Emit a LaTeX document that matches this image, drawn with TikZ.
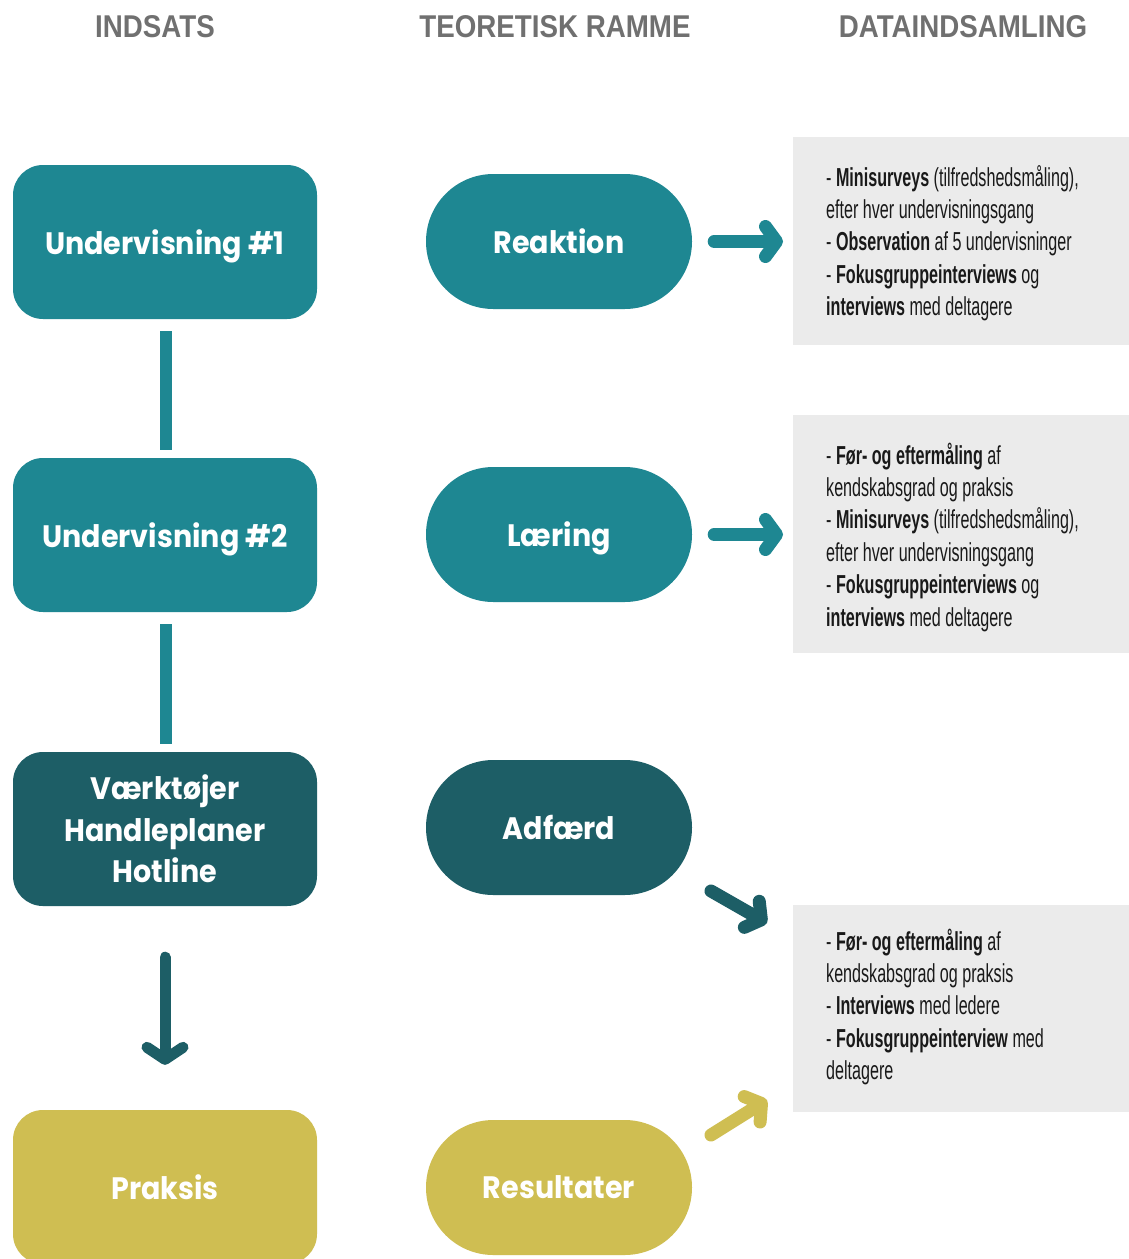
\documentclass[tikz,border=0pt]{standalone}
\usepackage{fontspec}
\usetikzlibrary{arrows.meta}
\newfontfamily\headfont{Liberation Sans}[FakeStretch=0.88]
\newfontfamily\boxfont{Poppins}[FakeStretch=0.92]
\newfontfamily\listfont{Liberation Sans}[FakeStretch=0.62]
\definecolor{teal1}{RGB}{30,135,146}
\definecolor{teal2}{RGB}{29,94,102}
\definecolor{yell}{RGB}{207,190,82}
\definecolor{grayb}{RGB}{235,235,235}
\definecolor{headg}{RGB}{112,112,112}
\definecolor{txt}{RGB}{25,25,25}
\tikzset{
  head/.style={font=\headfont\bfseries\fontsize{31.5}{34}\selectfont, text=headg, anchor=base},
  lbox/.style={minimum width=304pt, minimum height=154pt, rounded corners=30pt, inner sep=0pt, text=white, align=center, font=\boxfont\bfseries\fontsize{31}{41.5}\selectfont},
  pill/.style={minimum width=266pt, minimum height=135pt, rounded corners=67.4pt, inner sep=0pt, text=white, align=center, font=\boxfont\bfseries\fontsize{31}{40}\selectfont},
  oneline/.style={text depth=0pt},
  gbox/.style={fill=grayb, inner sep=0pt, minimum width=347pt, anchor=north west},
  listtxt/.style={anchor=base west, inner sep=0pt, text=txt, font=\listfont\fontsize{26}{32.4}\selectfont},
  conn/.style={draw=teal1, line width=12pt},
  arr/.style={line width=13pt, line cap=round, -{Straight Barb[round, length=11pt, width=30pt]}},
}
\begin{document}
\begin{tikzpicture}[x=1pt,y=-1pt]
\useasboundingbox[fill=white] (0,0) rectangle (1128,1259);
% headers
\node[head] (h1) at (155,37) {INDSATS};
\node[head] (h2) at (555,37) {TEORETISK RAMME};
\node[head] (h3) at (963,37) {DATAINDSAMLING};
% left column
\node[lbox, oneline, fill=teal1] (u1) at (165,242) {Undervisning \#1};
\node[lbox, oneline, fill=teal1] (u2) at (165,535) {Undervisning \#2};
\node[lbox, fill=teal2] (vt) at (165,829) {Værktøjer\\Handleplaner\\Hotline};
\node[lbox, oneline, fill=yell] (pr) at (165,1187) {Praksis};
\draw[conn, shorten <=12pt, shorten >=8pt] ([xshift=1pt]u1.south) -- ([xshift=1pt]u2.north);
\draw[conn, shorten <=12pt, shorten >=8pt] ([xshift=1pt]u2.south) -- ([xshift=1pt]vt.north);
\draw[line width=11pt, line cap=round, draw=teal2, -{Straight Barb[round, length=12pt, width=36pt]}, shorten <=51pt, shorten >=45pt] (vt.south) -- (pr.north);
% middle column
\node[pill, oneline, fill=teal1] (re) at (559,241.5) {Reaktion};
\node[pill, oneline, fill=teal1] (la) at (559,534.5) {Læring};
\node[pill, oneline, fill=teal2] (ad) at (559,827.5) {Adfærd};
\node[pill, oneline, fill=yell] (rs) at (559,1187.5) {Resultater};
% right column
\node[gbox, minimum height=208pt] (g1) at (793,137) {};
\node[gbox, minimum height=238pt] (g2) at (793,415) {};
\node[gbox, minimum height=207pt] (g3) at (793,905) {};
\node[listtxt] (t1) at (826,186) {\parbox[t]{330pt}{\raggedright
- \textbf{Minisurveys} (tilfredshedsmåling),\\
efter hver undervisningsgang\\
- \textbf{Observation} af 5 undervisninger\\
- \textbf{Fokusgruppeinterviews} og\\
\textbf{interviews} med deltagere}};
\node[listtxt] (t2) at (826,464) {\parbox[t]{330pt}{\raggedright
- \textbf{Før- og eftermåling} af\\
kendskabsgrad og praksis\\
- \textbf{Minisurveys} (tilfredshedsmåling),\\
efter hver undervisningsgang\\
- \textbf{Fokusgruppeinterviews} og\\
\textbf{interviews} med deltagere}};
\node[listtxt] (t3) at (826,950) {\parbox[t]{330pt}{\raggedright
- \textbf{Før- og eftermåling} af\\
kendskabsgrad og praksis\\
- \textbf{Interviews} med ledere\\
- \textbf{Fokusgruppeinterview} med\\
deltagere}};
% arrows
\draw[arr, draw=teal1, shorten <=22pt, shorten >=10pt] (re.east) -- (re.east -| g1.west);
\draw[arr, draw=teal1, shorten <=22pt, shorten >=10pt] (la.east) -- (la.east -| g2.west);
\coordinate (d1s) at (711,891);
\coordinate (d1e) at (767,923);
\coordinate (d2s) at (711,1135);
\coordinate (d2e) at (767,1100);
\draw[arr, draw=teal2] (d1s) -- (d1e);
\draw[arr, draw=yell] (d2s) -- (d2e);
\end{tikzpicture}
\end{document}
